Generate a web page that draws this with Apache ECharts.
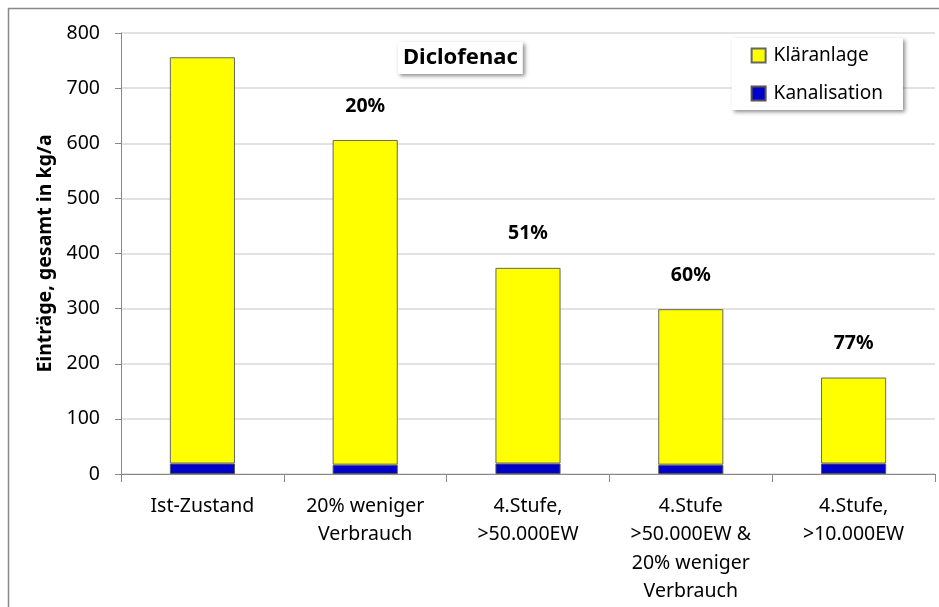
<!DOCTYPE html>
<html>
<head>
<meta charset="utf-8">
<script src="https://cdn.jsdelivr.net/npm/echarts@6/dist/echarts.min.js"></script>
<style>
  html, body { margin: 0; padding: 0; background: #fff; }
  #chart { width: 939px; height: 607px; }
</style>
</head>
<body>
<div id="chart"></div>
<script>
// Kategorien und Werte (kg/a)
var categories = ['Ist-Zustand', '20% weniger\nVerbrauch', '4.Stufe,\n>50.000EW', '4.Stufe\n>50.000EW &\n20% weniger\nVerbrauch', '4.Stufe,\n>10.000EW'];
var kanalisation = [19, 17, 19, 17, 19];
var klaeranlage = [737, 589, 355, 282, 156];
var reduktion = ['', '20%', '51%', '60%', '77%'];
var yTicks = [0, 100, 200, 300, 400, 500, 600, 700, 800];

var font = 'Noto Sans';
var myChart = echarts.init(document.getElementById('chart'));

var option = {
    animation: false,
    textStyle: { fontFamily: font },
    title: {
        text: 'Diclofenac',
        left: 398, top: 42,
        padding: [5, 5, 5, 5],
        backgroundColor: '#fff',
        shadowBlur: 4, shadowColor: 'rgba(0,0,0,0.45)', shadowOffsetX: 2, shadowOffsetY: 2,
        textStyle: { fontFamily: font, fontSize: 22, fontWeight: 'bold', color: '#000' }
    },
    legend: {
        orient: 'vertical',
        right: 36, top: 38,
        padding: [8, 20, 7, 19],
        itemGap: 19,
        icon: 'rect',
        itemWidth: 14, itemHeight: 14,
        backgroundColor: '#fff',
        shadowBlur: 4, shadowColor: 'rgba(0,0,0,0.45)', shadowOffsetX: 2, shadowOffsetY: 2,
        textStyle: { fontFamily: font, fontSize: 19, color: '#000', padding: [0, 0, 0, 3] },
        data: ['Kläranlage', 'Kanalisation']
    },
    grid: { left: 121, right: 4, top: 33, bottom: 133, containLabel: false },
    xAxis: {
        type: 'category',
        data: categories,
        axisLine: { lineStyle: { color: '#888' } },
        axisTick: { show: true, length: 8, lineStyle: { color: '#888' } },
        axisLabel: { margin: 18, fontSize: 19.5, lineHeight: 28.5, color: '#000', fontFamily: font, interval: 0 }
    },
    yAxis: {
        type: 'value',
        min: yTicks[0], max: yTicks[yTicks.length - 1], interval: 100,
        name: 'Einträge, gesamt in kg/a',
        nameLocation: 'middle',
        nameGap: 64,
        nameTextStyle: { fontFamily: font, fontSize: 19.5, fontWeight: 'bold', color: '#000' },
        axisLine: { show: true, lineStyle: { color: '#888' } },
        axisTick: { show: true, length: 6, lineStyle: { color: '#888' } },
        axisLabel: { margin: 21, fontSize: 19.5, color: '#000', fontFamily: font },
        splitLine: { lineStyle: { color: '#d9d9d9', width: 1.5 } }
    },
    series: [
        {
            name: 'Kanalisation',
            type: 'bar',
            stack: 'gesamt',
            barWidth: '40%',
            data: kanalisation,
            itemStyle: { color: '#0000cc', borderColor: '#555', borderWidth: 1 }
        },
        {
            name: 'Kläranlage',
            type: 'bar',
            stack: 'gesamt',
            barWidth: '40%',
            data: klaeranlage,
            itemStyle: { color: '#ffff00', borderColor: '#666', borderWidth: 1 },
            label: {
                show: true,
                position: 'top',
                distance: 24,
                fontFamily: font,
                fontSize: 19.5,
                fontWeight: 'bold',
                color: '#000',
                formatter: function (p) { return reduktion[p.dataIndex]; }
            }
        }
    ],
    graphic: [{
        type: 'polyline',
        shape: { points: [[8.5, 620], [8.5, 8.5], [950, 8.5]] },
        style: { stroke: '#888', lineWidth: 1.5, fill: null }
    }]
};

myChart.setOption(option);
</script>
</body>
</html>
